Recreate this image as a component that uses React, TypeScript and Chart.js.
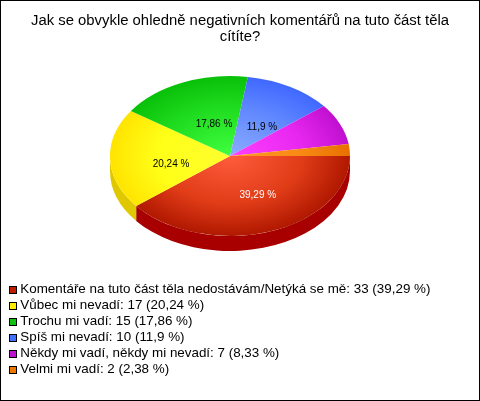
import React, { useEffect, useRef } from "react";
import { Chart, registerables } from "chart.js";

Chart.register(...registerables);

const titleLines = ["Jak se obvykle ohledně negativních komentářů na tuto část těla", "cítíte?"];
const categories = [
  "Komentáře na tuto část těla nedostávám/Netýká se mě",
  "Vůbec mi nevadí",
  "Trochu mi vadí",
  "Spíš mi nevadí",
  "Někdy mi vadí, někdy mi nevadí",
  "Velmi mi vadí",
];
const counts = [33, 17, 15, 10, 7, 2];
const percents = ["39,29", "20,24", "17,86", "11,9", "8,33", "2,38"];
const swatchColors = ["#c01c00", "#ffee00", "#10c010", "#4070ff", "#c010d0", "#ee7700"];
const innerColors = ["#ff5c3c", "#ffff30", "#40ff40", "#8cacff", "#ff40ff", "#ff9a28"];
const midColors = ["#e03c18", "#ffff18", "#20dc20", "#6088ff", "#e828f0", "#f88a14"];
const outerColors = ["#b01800", "#ffe400", "#08c008", "#4068ff", "#c010d0", "#e87000"];
const sideColors = ["#a80000", "#e0c800", "#089008", "#3050c0", "#900898", "#b05800"];
const labelColors = ["#ffffff", "#000000", "#000000", "#000000", "", ""];
const labelNudgeX = [8, 1, 8, 2, 0, 0];
const labelNudgeY = [1, 7, 5, 6, 0, 0];

const FONT = "'Liberation Sans', Arial, sans-serif";
const PIE_Y = 156;
const TILT = 2 / 3;
const DEPTH = 15;

const piePlugin = {
  id: "pie3d",
  beforeDraw(chart: any) {
    const { ctx, width, height } = chart;
    ctx.save();
    ctx.fillStyle = "#ffffff";
    ctx.fillRect(0, 0, width, height);
    ctx.strokeStyle = "#000000";
    ctx.lineWidth = 1;
    ctx.strokeRect(0.5, 0.5, width - 1, height - 1);
    ctx.restore();
  },
  afterLayout(chart: any) {
    const legend = chart.legend;
    legend.left = 7;
    legend.right = 480;
    legend.top = 280;
    legend.bottom = 400;
    legend.width = 473;
    legend.height = 120;
    const title = chart.titleBlock;
    title.left = 0;
    title.right = 480;
    title.width = 480;
  },
  beforeDatasetsDraw(chart: any) {
    const { ctx } = chart;
    const arcs = chart.getDatasetMeta(0).data;
    const cx = arcs[0].x;
    const cy = arcs[0].y;
    const r = arcs[0].outerRadius;
    arcs.forEach((arc: any, i: number) => {
      const a = Math.max(arc.startAngle, 0);
      const b = Math.min(arc.endAngle, Math.PI);
      if (b <= a) return;
      ctx.save();
      ctx.fillStyle = sideColors[i];
      ctx.beginPath();
      ctx.ellipse(cx, PIE_Y, r, r * TILT, 0, a, b);
      ctx.ellipse(cx, PIE_Y + DEPTH, r, r * TILT, 0, b, a, true);
      ctx.closePath();
      ctx.fill();
      ctx.restore();
    });
    ctx.save();
    ctx.translate(cx, PIE_Y);
    ctx.scale(1, TILT);
    ctx.translate(-cx, -cy);
  },
  afterDatasetsDraw(chart: any) {
    const { ctx } = chart;
    ctx.restore();
    const arcs = chart.getDatasetMeta(0).data;
    const r = arcs[0].outerRadius;
    ctx.save();
    ctx.font = `10px ${FONT}`;
    ctx.textAlign = "center";
    ctx.textBaseline = "middle";
    arcs.forEach((arc: any, i: number) => {
      if (!labelColors[i]) return;
      const mid = (arc.startAngle + arc.endAngle) / 2;
      const x = arc.x + Math.cos(mid) * r * 0.5 + labelNudgeX[i];
      const y = PIE_Y + Math.sin(mid) * r * 0.5 * TILT + labelNudgeY[i];
      ctx.fillStyle = labelColors[i];
      ctx.fillText(`${percents[i]} %`, x, y);
    });
    ctx.restore();
  },
  afterDraw(chart: any) {
    const { ctx } = chart;
    ctx.save();
    ctx.lineWidth = 1;
    ctx.strokeStyle = "#000000";
    chart.legend.legendItems.forEach((_: any, i: number) => {
      const y = 286 + i * 16;
      ctx.fillStyle = swatchColors[i];
      ctx.fillRect(9, y, 8, 8);
      ctx.strokeRect(9.5, y + 0.5, 7, 7);
    });
    ctx.restore();
  },
};

export default function App() {
  const ref = useRef<HTMLCanvasElement>(null);
  useEffect(() => {
    const chart = new Chart(ref.current as HTMLCanvasElement, {
      type: "pie",
      data: {
        labels: categories,
        datasets: [
          {
            data: counts,
            borderWidth: 0,
            clip: false,
            backgroundColor: (c: any) => {
              const area = c.chart.chartArea;
              const i = c.dataIndex;
              if (!area || i === undefined) return swatchColors[i ?? 0];
              const x = (area.left + area.right) / 2;
              const y = (area.top + area.bottom) / 2;
              const g = c.chart.ctx.createRadialGradient(x, y, 0, x, y, 120);
              g.addColorStop(0, innerColors[i]);
              g.addColorStop(0.6, midColors[i]);
              g.addColorStop(1, outerColors[i]);
              return g;
            },
          } as any,
        ],
      },
      options: {
        responsive: false,
        animation: false,
        rotation: 90,
        layout: { padding: { left: 109, right: 130, top: 0, bottom: 116 } },
        plugins: {
          title: {
            display: true,
            text: titleLines,
            color: "#000000",
            font: { family: FONT, size: 14.86, weight: "normal", lineHeight: 1.077 },
            padding: { top: 13, bottom: 0 },
          },
          legend: {
            display: true,
            position: "left",
            align: "start",
            maxWidth: 1,
            labels: {
              boxWidth: 4,
              boxHeight: 8,
              padding: 2.6,
              color: "#000000",
              font: { family: FONT, size: 13.4 },
              generateLabels: () =>
                categories.map((cat, i) => ({
                  text: `${cat}: ${counts[i]} (${percents[i]} %)`,
                  fillStyle: "rgba(0,0,0,0)",
                  strokeStyle: "rgba(0,0,0,0)",
                  lineWidth: 0,
                  index: i,
                })),
            },
          },
          tooltip: { enabled: false },
        },
      } as any,
      plugins: [piePlugin],
    });
    return () => chart.destroy();
  }, []);
  return (
    <div style={{ position: "fixed", left: 0, top: 0, width: 480, height: 401 }}>
      <canvas ref={ref} width={480} height={401} style={{ display: "block" }} />
    </div>
  );
}
